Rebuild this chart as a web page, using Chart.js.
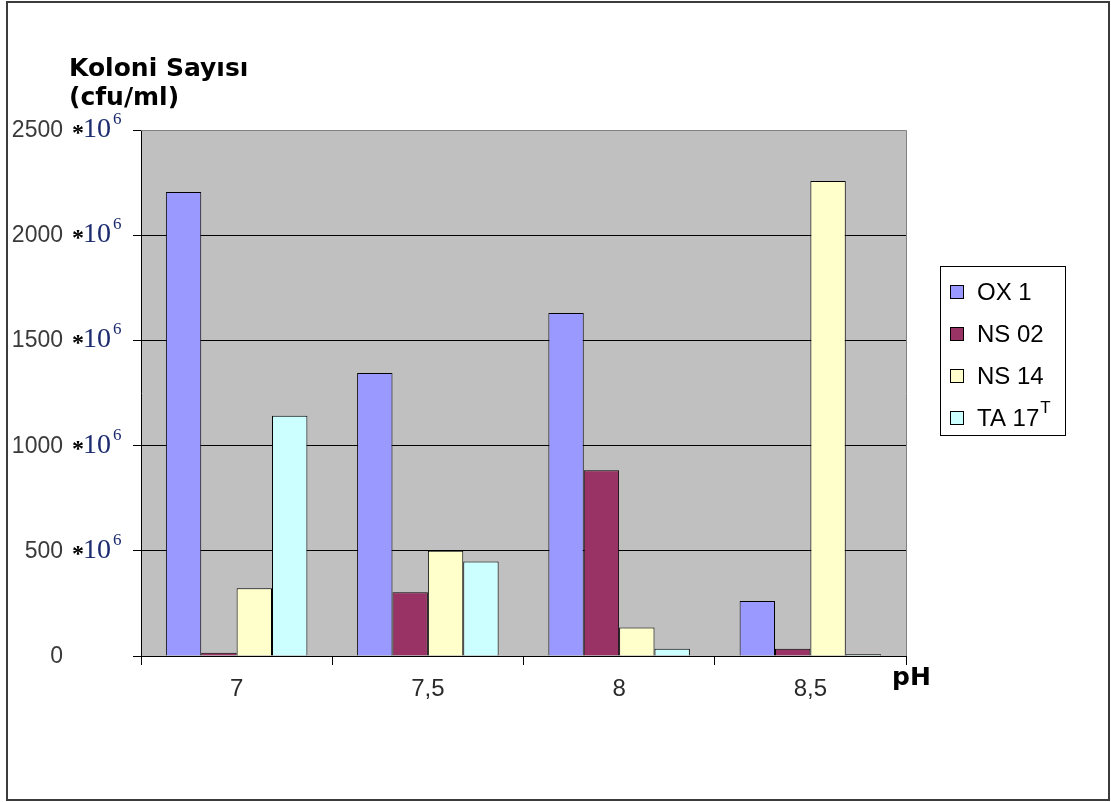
<!DOCTYPE html>
<html>
<head>
<meta charset="utf-8">
<title>Koloni Sayısı - pH</title>
<script src="https://cdn.jsdelivr.net/npm/chart.js@4/dist/chart.umd.min.js"></script>
<style>
  html, body { margin: 0; padding: 0; background: #fff; }
  #wrap { width: 1111px; height: 802px; }
</style>
</head>
<body>
<div id="wrap"><canvas id="c" width="1111" height="802"></canvas></div>
<script>
// pH categories on the x axis
const phLabels = ['7', '7,5', '8', '8,5'];

// strain names shown in the legend (with optional superscript)
const seriesNames = ['OX 1', 'NS 02', 'NS 14', 'TA 17'];
const seriesSup = ['', '', '', 'T'];

// colony counts, in units of 10^6 cfu/ml
const ox1  = [2205, 1345, 1630, 262];
const ns02 = [15, 303, 883, 35];
const ns14 = [322, 500, 136, 2258];
const ta17 = [1142, 449, 35, 8];

// y axis ticks (multiplied by 10^6 in the label)
const yTicks = [0, 500, 1000, 1500, 2000, 2500];
const yMultiplier = '10';
const yExponent = '6';

const seriesColors = ['#9999FF', '#993366', '#FFFFCC', '#CCFFFF'];
const seriesData = [ox1, ns02, ns14, ta17];

const datasets = seriesNames.map((name, i) => ({
  label: name,
  sup: seriesSup[i],
  data: seriesData[i],
  backgroundColor: seriesColors[i],
  borderColor: '#000000',
  borderWidth: 1,
  categoryPercentage: 0.74,
  barPercentage: 1.0
}));

const SANS = '"Liberation Sans", Arial, sans-serif';
const SERIF = '"Liberation Serif", "Times New Roman", serif';
const BOLD = '"DejaVu Sans", Verdana, sans-serif';

// page frame and grey plot background
const backdrop = {
  id: 'backdrop',
  beforeDraw(chart) {
    const { ctx, chartArea: a } = chart;
    ctx.save();
    ctx.fillStyle = '#ffffff';
    ctx.fillRect(0, 0, chart.width, chart.height);
    ctx.strokeStyle = '#3c3c3c';
    ctx.lineWidth = 2;
    ctx.strokeRect(7, 2, 1102, 798);
    ctx.fillStyle = '#C0C0C0';
    ctx.fillRect(a.left, a.top, a.right - a.left, a.bottom - a.top);
    ctx.restore();
  },
  beforeDatasetsDraw(chart) {
    const { ctx, chartArea: a } = chart;
    ctx.save();
    ctx.strokeStyle = '#808080';
    ctx.lineWidth = 1;
    ctx.beginPath();
    ctx.moveTo(a.left, a.top + 0.5);
    ctx.lineTo(a.right + 0.5, a.top + 0.5);
    ctx.lineTo(a.right + 0.5, a.bottom);
    ctx.stroke();
    ctx.restore();
  }
};

// y tick labels of the form "1500 *10^6", titles and legend
const decorations = {
  id: 'decorations',
  afterDraw(chart) {
    const { ctx } = chart;
    const y = chart.scales.y;
    ctx.save();

    y.ticks.forEach(t => {
      const py = y.getPixelForValue(t.value);
      ctx.textAlign = 'right';
      ctx.textBaseline = 'alphabetic';
      ctx.fillStyle = '#3a3a3a';
      ctx.font = '23px ' + SANS;
      ctx.fillText(String(t.value), 63, py + 7);
      if (t.value !== 0) {
        ctx.textAlign = 'left';
        ctx.fillStyle = '#000000';
        ctx.font = 'bold 24px ' + SERIF;
        ctx.fillText('*', 72, py + 10);
        ctx.fillStyle = '#1c2a6e';
        ctx.font = '28px ' + SERIF;
        ctx.fillText(yMultiplier, 83, py + 7);
        ctx.font = '17px ' + SERIF;
        ctx.fillText(yExponent, 113, py - 6);
      }
    });

    // axis titles
    ctx.textAlign = 'left';
    ctx.textBaseline = 'alphabetic';
    ctx.fillStyle = '#000000';
    ctx.font = 'bold 25px ' + BOLD;
    ctx.fillText('Koloni Sayısı', 69, 76);
    ctx.fillText('(cfu/ml)', 69, 105);
    ctx.font = 'bold 25px ' + BOLD;
    ctx.fillText('pH', 892, 685);

    // legend
    const lx = 940, ly = 266, lw = 125, lh = 169;
    ctx.fillStyle = '#ffffff';
    ctx.fillRect(lx, ly, lw, lh);
    ctx.strokeStyle = '#000000';
    ctx.lineWidth = 1;
    ctx.strokeRect(lx + 0.5, ly + 0.5, lw, lh);
    const rowY = [292, 334, 376, 418];
    chart.data.datasets.forEach((ds, i) => {
      const cy = rowY[i];
      ctx.fillStyle = ds.backgroundColor;
      ctx.fillRect(951, cy - 6, 12, 12);
      ctx.strokeStyle = '#000000';
      ctx.strokeRect(950.5, cy - 6.5, 13, 13);
      ctx.fillStyle = '#000000';
      ctx.font = '24px ' + SANS;
      ctx.textBaseline = 'middle';
      ctx.textAlign = 'left';
      ctx.fillText(ds.label, 977, cy + 1);
      if (ds.sup) {
        const w = ctx.measureText(ds.label).width;
        ctx.font = '17px ' + SANS;
        ctx.fillText(ds.sup, 977 + w + 1, cy - 10);
      }
    });
    ctx.restore();
  }
};

new Chart(document.getElementById('c'), {
  type: 'bar',
  data: { labels: phLabels, datasets },
  options: {
    responsive: false,
    animation: false,
    layout: { padding: { left: 0, top: 130, right: 205, bottom: 0 } },
    plugins: {
      legend: { display: false },
      tooltip: { enabled: false },
      title: { display: false }
    },
    scales: {
      x: {
        offset: true,
        grid: {
          offset: true,
          drawOnChartArea: false,
          drawTicks: true,
          tickLength: 9,
          color: '#000000'
        },
        border: { display: true, color: '#000000', width: 1 },
        ticks: {
          color: '#2a2a2a',
          font: { family: SANS, size: 24 },
          padding: 10,
          maxRotation: 0
        },
        afterFit(scale) { scale.height = 146; }
      },
      y: {
        min: 0,
        max: 2500,
        afterBuildTicks(scale) { scale.ticks = yTicks.map(v => ({ value: v })); },
        ticks: { display: false },
        grid: {
          color: ctx => (ctx.tick && ctx.tick.value === 2500 ? '#808080' : '#000000'),
          tickColor: '#000000',
          drawTicks: true,
          tickLength: 8,
          lineWidth: 1
        },
        border: { display: true, color: '#000000', width: 1 },
        afterFit(scale) { scale.width = 141; }
      }
    }
  },
  plugins: [backdrop, decorations]
});
</script>
</body>
</html>
